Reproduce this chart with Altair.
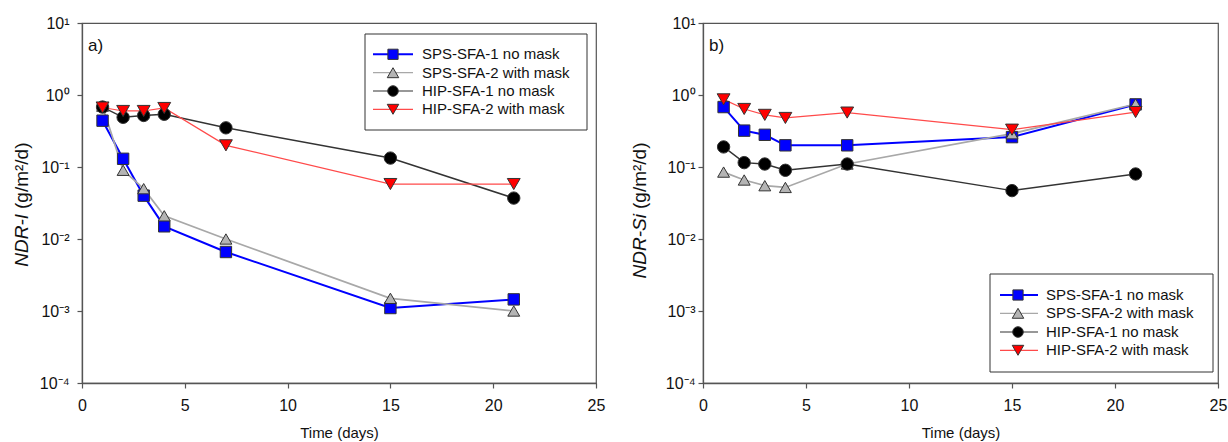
import altair as alt
import pandas as pd

FONT = "Liberation Sans"

days = [1, 2, 3, 4, 7, 15, 21]
series_names = ["SPS-SFA-1 no mask", "SPS-SFA-2 with mask", "HIP-SFA-1 no mask", "HIP-SFA-2 with mask"]

# Panel a) NDR-I
ndr_i_sps1 = [0.44, 0.13, 0.040, 0.015, 0.0066, 0.0011, 0.00145]
ndr_i_sps2 = [0.70, 0.09, 0.050, 0.021, 0.010, 0.0015, 0.0010]
ndr_i_hip1 = [0.68, 0.49, 0.52, 0.54, 0.35, 0.133, 0.037]
ndr_i_hip2 = [0.67, 0.60, 0.60, 0.66, 0.20, 0.058, 0.058]

# Panel b) NDR-Si
ndr_si_sps1 = [0.68, 0.32, 0.28, 0.20, 0.20, 0.26, 0.74]
ndr_si_sps2 = [0.085, 0.066, 0.055, 0.052, 0.11, 0.29, 0.75]
ndr_si_hip1 = [0.19, 0.115, 0.11, 0.09, 0.11, 0.047, 0.08]
ndr_si_hip2 = [0.87, 0.64, 0.53, 0.48, 0.57, 0.33, 0.58]

fill_colors = ["#0000ff", "#b4b4b4", "#000000", "#ff0000"]
line_colors = ["#0000ff", "#a8a8a8", "#333333", "#ff4a4a"]
line_widths = [2.0, 1.2, 1.2, 1.2]
shapes = ["square", "triangle-up", "circle", "triangle-down"]
sizes = [130, 165, 140, 165]

x_ticks = [0, 5, 10, 15, 20, 25]
y_ticks = [1e-4, 1e-3, 1e-2, 1e-1, 1, 10]

label_expr = ("datum.value > 5 ? '10\u00b9' : datum.value > 0.5 ? '10\u2070' : "
              "datum.value > 0.05 ? '10\u207b\u00b9' : datum.value > 0.005 ? '10\u207b\u00b2' : "
              "datum.value > 0.0005 ? '10\u207b\u00b3' : '10\u207b\u2074'")

one = pd.DataFrame({"k": [0]})


def panel(series_values, label, title_main, title_x, title_split, legend_box, legend_rows, legend_lx, label_pad):
    rows = []
    for name, vals in zip(series_names, series_values):
        for d, v in zip(days, vals):
            rows.append({"series": name, "day": d, "value": v})
    df = pd.DataFrame(rows)

    x = alt.X("day:Q", scale=alt.Scale(domain=[0, 25], nice=False),
              axis=alt.Axis(values=x_ticks, title="Time (days)", labelPadding=9,
                            titlePadding=12, titleFontSize=15, titleFontWeight="normal"))
    y = alt.Y("value:Q", scale=alt.Scale(type="log", domain=[1e-4, 10], nice=False),
              axis=alt.Axis(values=y_ticks, labelExpr=label_expr, title=None, labelPadding=label_pad))

    lines = alt.Chart(df).mark_line().encode(
        x=x, y=y,
        color=alt.Color("series:N", scale=alt.Scale(domain=series_names, range=line_colors), legend=None),
        strokeWidth=alt.StrokeWidth("series:N", scale=alt.Scale(domain=series_names, range=line_widths), legend=None),
    )
    points = alt.Chart(df).mark_point(filled=True, opacity=1, stroke="#333333", strokeWidth=1).encode(
        x=x, y=y,
        fill=alt.Fill("series:N", scale=alt.Scale(domain=series_names, range=fill_colors), legend=None),
        shape=alt.Shape("series:N", scale=alt.Scale(domain=series_names, range=shapes), legend=None),
        size=alt.Size("series:N", scale=alt.Scale(domain=series_names, range=sizes), legend=None),
    )

    layers = [lines, points]

    # panel label
    layers.append(alt.Chart(one).mark_text(align="left", baseline="middle", font=FONT, fontSize=17, color="#111").encode(
        x=alt.value(6), y=alt.value(23), text=alt.value(label)))

    # y title (mixed italic)
    layers.append(alt.Chart(one).mark_text(angle=270, align="right", baseline="middle", font=FONT, fontSize=19,
                                           fontStyle="italic", color="#111").encode(
        x=alt.value(title_x), y=alt.value(title_split), text=alt.value(title_main)))
    layers.append(alt.Chart(one).mark_text(angle=270, align="left", baseline="middle", font=FONT, fontSize=19,
                                           color="#111").encode(
        x=alt.value(title_x), y=alt.value(title_split - 5), text=alt.value("(g/m\u00b2/d)")))

    # legend
    bx1, bx2, by1, by2 = legend_box
    layers.append(alt.Chart(one).mark_rect(fill="white", stroke="#333333", strokeWidth=1).encode(
        x=alt.value(bx1), x2=alt.value(bx2), y=alt.value(by1), y2=alt.value(by2)))
    lx1, lsx, lx2, ltx = legend_lx
    for i, name in enumerate(series_names):
        ly = legend_rows[i]
        layers.append(alt.Chart(one).mark_rule(color=line_colors[i], strokeWidth=line_widths[i]).encode(
            x=alt.value(lx1), x2=alt.value(lx2), y=alt.value(ly)))
        layers.append(alt.Chart(one).mark_point(shape=shapes[i], filled=True, fill=fill_colors[i], opacity=1,
                                                stroke="#333333", strokeWidth=1, size=sizes[i] * 0.8).encode(
            x=alt.value(lsx), y=alt.value(ly)))
        layers.append(alt.Chart(one).mark_text(align="left", baseline="middle", font=FONT, fontSize=15,
                                               color="#111").encode(
            x=alt.value(ltx), y=alt.value(ly), text=alt.value(name)))

    return alt.layer(*layers)


left = panel([ndr_i_sps1, ndr_i_sps2, ndr_i_hip1, ndr_i_hip2], "a)", "NDR-I", -60, 191,
             (283, 505, 11, 107), [31.3, 49.7, 68.0, 86.3], (291, 311, 331, 340), 8).properties(width=514, height=360)
right = panel([ndr_si_sps1, ndr_si_sps2, ndr_si_hip1, ndr_si_hip2], "b)", "NDR-Si", -63, 191,
              (287, 510, 251, 349), [272.0, 290.3, 309.0, 327.3], (297, 315, 335, 343), 3).properties(width=515, height=360)

chart = alt.hconcat(left, right, spacing=107, bounds="flush").properties(
    padding={"left": 12, "top": 14, "right": 0, "bottom": 1},
    background="white",
).configure_view(stroke="#555555", strokeWidth=1.2).configure_axis(
    grid=False, domainColor="#555555", domainWidth=1.3, tickColor="#555555", tickSize=5, tickWidth=1.2,
    labelFont=FONT, labelFontSize=16, labelColor="#111111", titleFont=FONT, titleColor="#111111",
    labelFlush=False, labelOverlap=False
)

chart.save("out.html", embed_options={"renderer": "svg", "actions": False})
